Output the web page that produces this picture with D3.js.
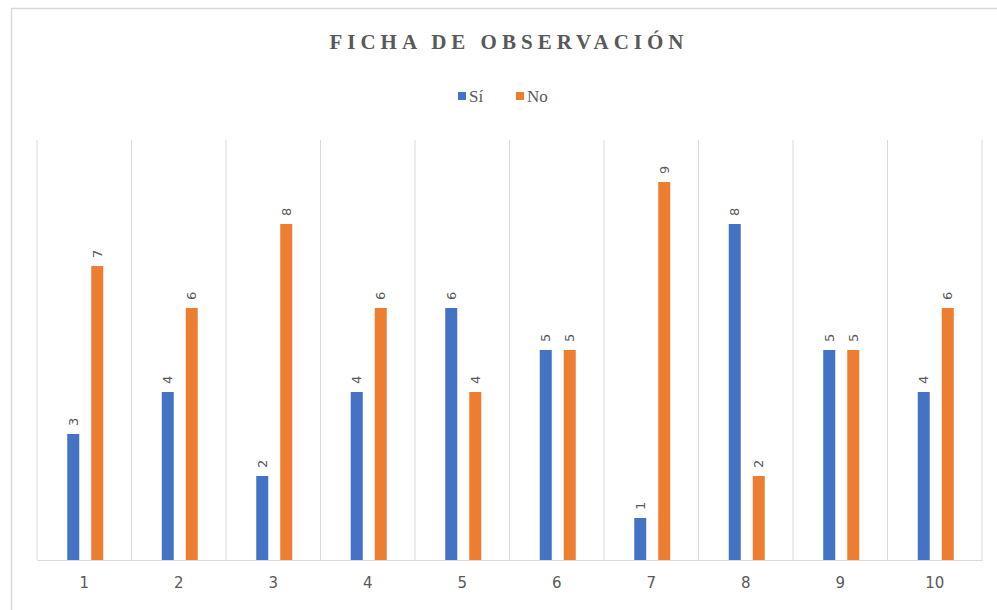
<!DOCTYPE html>
<html>
<head>
<meta charset="utf-8">
<script src="https://cdn.jsdelivr.net/npm/d3@7"></script>
<style>
  body { margin: 0; background: #fff; }
  svg { display: block; }
</style>
</head>
<body>
<div id="chart"></div>
<script>
const categories = ['1', '2', '3', '4', '5', '6', '7', '8', '9', '10'];
const siValues = [3, 4, 2, 4, 6, 5, 1, 8, 5, 4];
const noValues = [7, 6, 8, 6, 4, 5, 9, 2, 5, 6];
const seriesNames = ['Sí', 'No'];
const colors = ['#4472C4', '#ED7D31'];

const W = 997, H = 610;
const margin = { top: 140, right: 15, bottom: 50, left: 37 };
const width = W - margin.left - margin.right;
const height = H - margin.top - margin.bottom;

const svg = d3.select('#chart')
  .append('svg')
  .attr('width', W)
  .attr('height', H);

// chart frame
svg.append('rect')
  .attr('x', 11.5).attr('y', 8.5)
  .attr('width', 1000).attr('height', 700)
  .attr('fill', 'none')
  .attr('stroke', '#d9d9d9')
  .attr('stroke-width', 1.5);

// title
svg.append('text')
  .attr('x', 509)
  .attr('y', 49)
  .attr('text-anchor', 'middle')
  .style('font-family', '"Liberation Serif", "DejaVu Serif", serif')
  .style('font-weight', 'bold')
  .style('font-size', '21px')
  .style('letter-spacing', '5px')
  .style('fill', '#595959')
  .text('FICHA DE OBSERVACIÓN');

// legend
const legend = svg.append('g').attr('transform', 'translate(458,96)');
const legendX = [0, 58];
seriesNames.forEach((name, i) => {
  const g = legend.append('g').attr('transform', `translate(${legendX[i]},0)`);
  g.append('rect')
    .attr('x', 0).attr('y', -4)
    .attr('width', 8).attr('height', 8)
    .attr('fill', colors[i]);
  g.append('text')
    .attr('x', 11).attr('y', 6)
    .style('font-family', '"Liberation Serif", serif')
    .style('font-size', '17px')
    .style('fill', '#595959')
    .text(name);
});

const plot = svg.append('g')
  .attr('transform', `translate(${margin.left},${margin.top})`);

const x = d3.scaleBand()
  .domain(categories)
  .range([0, width])
  .padding(0);

const xInner = d3.scaleBand()
  .domain(seriesNames)
  .range([x.bandwidth() / 2 - 23, x.bandwidth() / 2 + 25])
  .paddingInner(0.5)
  .paddingOuter(0.25);

const y = d3.scaleLinear()
  .domain([0, 10])
  .range([height, 0]);

// vertical gridlines between categories
const edges = categories.map(c => x(c)).concat([width]);
plot.selectAll('.grid')
  .data(edges)
  .join('line')
  .attr('class', 'grid')
  .attr('x1', d => d).attr('x2', d => d)
  .attr('y1', 0).attr('y2', height)
  .attr('stroke', '#d9d9d9')
  .attr('stroke-width', 1);

// x axis
const xAxis = plot.append('g')
  .attr('transform', `translate(0,${height})`)
  .call(d3.axisBottom(x).tickSize(0).tickPadding(17));
xAxis.select('.domain').attr('stroke', '#d9d9d9');
xAxis.selectAll('text')
  .style('font-family', '"DejaVu Sans", sans-serif')
  .style('font-size', '15px')
  .style('fill', '#595959');

const data = categories.map((c, i) => ({
  cat: c,
  vals: [
    { name: seriesNames[0], value: siValues[i], color: colors[0] },
    { name: seriesNames[1], value: noValues[i], color: colors[1] }
  ]
}));

const groups = plot.selectAll('.cat')
  .data(data)
  .join('g')
  .attr('class', 'cat')
  .attr('transform', d => `translate(${x(d.cat)},0)`);

groups.selectAll('rect')
  .data(d => d.vals)
  .join('rect')
  .attr('x', d => xInner(d.name))
  .attr('y', d => y(d.value))
  .attr('width', xInner.bandwidth())
  .attr('height', d => height - y(d.value))
  .attr('fill', d => d.color);

// rotated data labels
groups.selectAll('.lbl')
  .data(d => d.vals)
  .join('text')
  .attr('class', 'lbl')
  .attr('transform', d => `translate(${xInner(d.name) + xInner.bandwidth() / 2 + 4.5},${y(d.value) - 8}) rotate(-90)`)
  .attr('text-anchor', 'start')
  .style('font-family', '"DejaVu Sans", sans-serif')
  .style('font-size', '13px')
  .style('fill', '#595959')
  .text(d => d.value);
</script>
</body>
</html>
